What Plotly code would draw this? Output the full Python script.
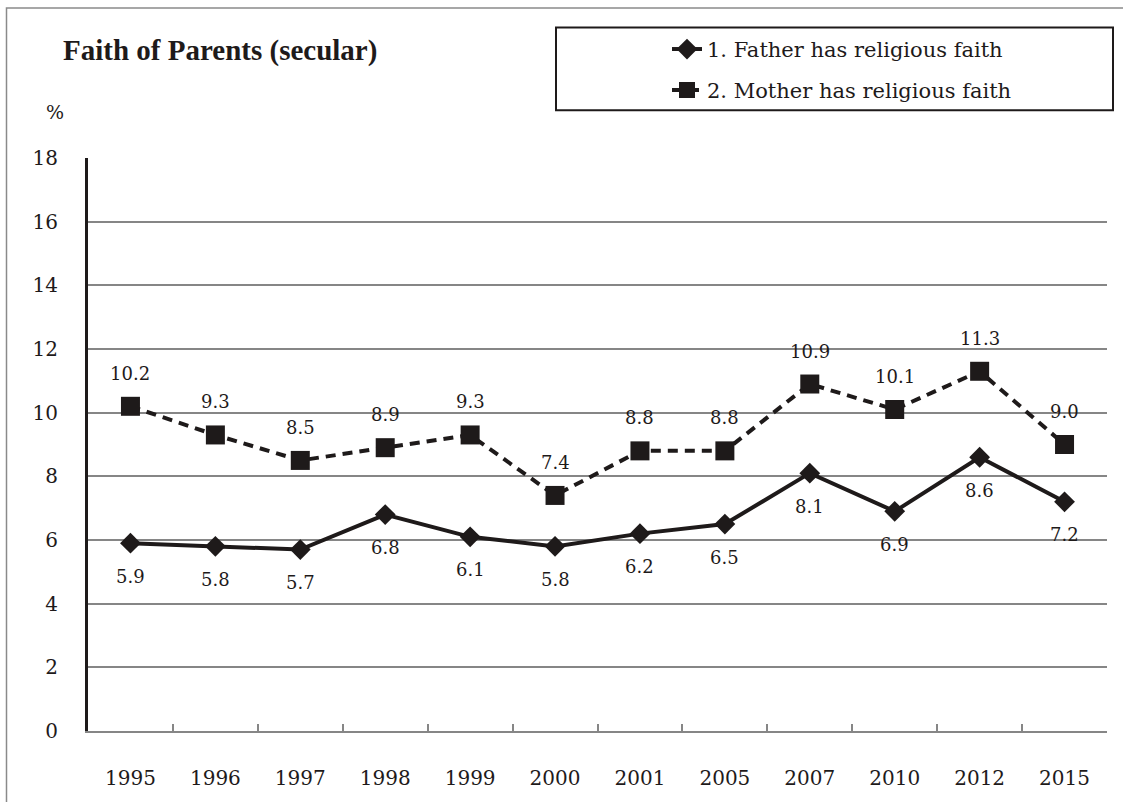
import plotly.graph_objects as go

years = ["1995", "1996", "1997", "1998", "1999", "2000", "2001", "2005", "2007", "2010", "2012", "2015"]
father = [5.9, 5.8, 5.7, 6.8, 6.1, 5.8, 6.2, 6.5, 8.1, 6.9, 8.6, 7.2]
mother = [10.2, 9.3, 8.5, 8.9, 9.3, 7.4, 8.8, 8.8, 10.9, 10.1, 11.3, 9.0]
name_father = "1. Father has religious faith"
name_mother = "2. Mother has religious faith"
title_text = "Faith of Parents (secular)"
y_ticks = [0, 2, 4, 6, 8, 10, 12, 14, 16, 18]

SERIF = "DejaVu Serif"
INK = "#1e1a1a"
GRID = "#868686"

W, H = 1123, 802
L, R, T, B = 88, 1107, 158, 733
PW, PH = R - L, B - T

def px(x):
    return (x - L) / PW

def py(y):
    return (B - y) / PH

fig = go.Figure()
fig.add_trace(go.Scatter(
    x=years, y=father, name=name_father, mode="lines+markers",
    line=dict(color=INK, width=4),
    marker=dict(symbol="diamond", size=16, color=INK),
    legend="legend",
))
fig.add_trace(go.Scatter(
    x=years, y=mother, name=name_mother, mode="lines+markers",
    line=dict(color=INK, width=4, dash="10px,7px"),
    marker=dict(symbol="square", size=19, color=INK),
    legend="legend2",
))

annotations = []
for i, yv in enumerate(father):
    annotations.append(dict(x=i, y=yv, xref="x", yref="y", text=f"{yv:.1f}",
                            showarrow=False, yshift=-33,
                            font=dict(family=SERIF, size=18, color=INK)))
for i, yv in enumerate(mother):
    annotations.append(dict(x=i, y=yv, xref="x", yref="y", text=f"{yv:.1f}",
                            showarrow=False, yshift=33,
                            font=dict(family=SERIF, size=18, color=INK)))
annotations.append(dict(x=px(61), y=py(50), xref="paper", yref="paper", text=f"<b>{title_text}</b>",
                        xanchor="left", yanchor="middle", showarrow=False,
                        font=dict(family="Liberation Serif", size=29, color=INK)))
annotations.append(dict(x=px(55), y=py(112), xref="paper", yref="paper", text="%",
                        xanchor="center", yanchor="middle", showarrow=False,
                        font=dict(family=SERIF, size=19, color=INK)))

shapes = [
    dict(type="rect", xref="paper", yref="paper", x0=px(6.5), x1=px(1140), y0=py(7.5), y1=py(820),
         line=dict(color="#8a8a8a", width=1.5), fillcolor="rgba(0,0,0,0)", layer="below"),
    dict(type="rect", xref="paper", yref="paper", x0=px(556), x1=px(1113), y0=py(27), y1=py(110),
         line=dict(color=INK, width=2), fillcolor="rgba(0,0,0,0)"),
]

leg_common = dict(xanchor="left", yanchor="middle", bgcolor="rgba(0,0,0,0)", borderwidth=0,
                  font=dict(family=SERIF, size=21, color=INK), itemwidth=30)

fig.update_layout(
    width=W, height=H,
    margin=dict(l=L, r=W - R, t=T, b=H - B),
    paper_bgcolor="white", plot_bgcolor="white",
    showlegend=True,
    legend=dict(x=px(667), y=py(49), **leg_common),
    legend2=dict(x=px(667), y=py(90), **leg_common),
    annotations=annotations,
    shapes=shapes,
    xaxis=dict(
        type="category", tickson="boundaries", ticks="inside", ticklen=7, tickwidth=2,
        tickcolor=GRID, showline=True, linecolor=GRID, linewidth=2, showgrid=False,
        tickfont=dict(family=SERIF, size=20, color=INK), ticklabelstandoff=28,
        range=[-0.5, len(years) - 0.5], fixedrange=True,
    ),
    yaxis=dict(
        range=[0, 18], tickvals=y_ticks, showgrid=True, gridcolor=GRID, gridwidth=2,
        showline=True, linecolor=INK, linewidth=3, ticks="", zeroline=False,
        tickfont=dict(family=SERIF, size=20, color=INK), ticklabelstandoff=23,
    ),
)

fig.write_html("out.html", config={"displayModeBar": False},
               post_script="document.body.style.margin='0px';document.body.style.overflow='hidden';")
